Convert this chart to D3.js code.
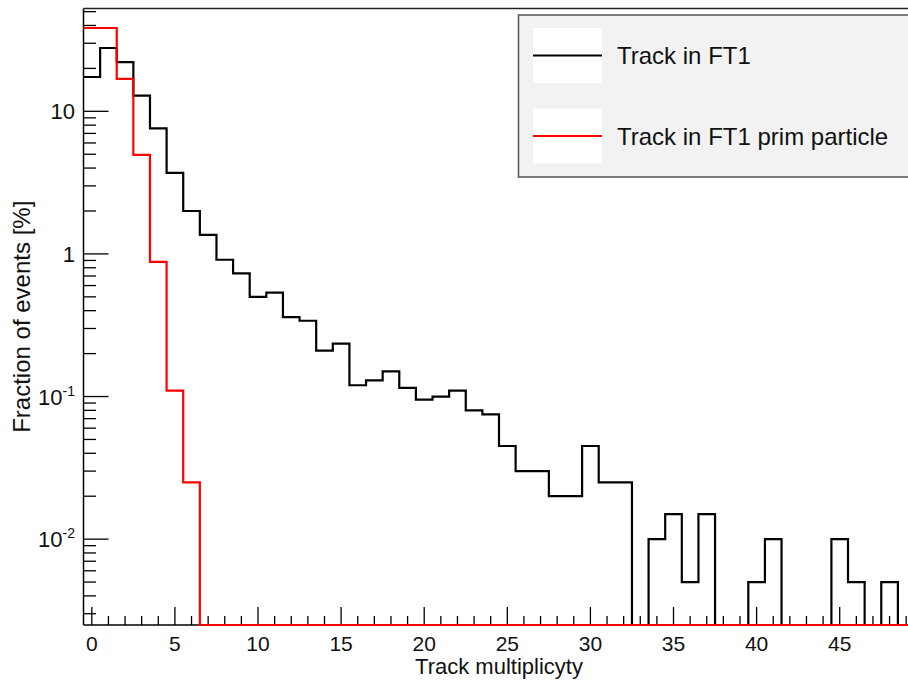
<!DOCTYPE html>
<html>
<head>
<meta charset="utf-8">
<script src="https://cdn.jsdelivr.net/npm/d3@7"></script>
<style>
  body { margin: 0; background: #fff; }
  svg { display: block; font-family: "Liberation Sans", Arial, sans-serif; }
</style>
</head>
<body>
<svg id="chart" width="908" height="680"></svg>
<script>
// bin centres 0..49, values in % of events (0 = empty bin)
var bins = d3.range(0, 50);

var trackFT1 = [
  17.4, 27.8, 22.1, 12.9, 7.6, 3.7, 2.0, 1.36, 0.91, 0.73,
  0.50, 0.535, 0.36, 0.34, 0.21, 0.235, 0.12, 0.13, 0.15, 0.115,
  0.095, 0.10, 0.11, 0.08, 0.075, 0.045, 0.03, 0.03, 0.02, 0.02,
  0.045, 0.025, 0.025, 0, 0.01, 0.015, 0.005, 0.015, 0, 0,
  0.005, 0.01, 0, 0, 0, 0.01, 0.005, 0, 0.005, 0
];

var trackFT1Prim = [
  38.4, 38.4, 16.9, 4.95, 0.88, 0.11, 0.025, 0, 0, 0,
  0, 0, 0, 0, 0, 0, 0, 0, 0, 0,
  0, 0, 0, 0, 0, 0, 0, 0, 0, 0,
  0, 0, 0, 0, 0, 0, 0, 0, 0, 0,
  0, 0, 0, 0, 0, 0, 0, 0, 0, 0
];

var xTicks = [0, 5, 10, 15, 20, 25, 30, 35, 40, 45];
var yTicks = [0.01, 0.1, 1, 10];
var yLabels = [["10", "-2"], ["10", "-1"], ["1", ""], ["10", ""]];

var legendNames = ["Track in FT1", "Track in FT1 prim particle"];
var legendColors = ["#000000", "#ff0000"];

var yMin = 0.0025, yMax = 52.6;

var svg = d3.select("#chart");
var padL = 83.5, padT = 8.5, padB = 625, padR = 914.5;

var x = d3.scaleLinear().domain([-0.5, 49.5]).range([padL, padR]);
var y = d3.scaleLog().domain([yMin, yMax]).range([padB, padT]);

// frame (top line only visible, right side is outside the picture)
svg.append("line").attr("x1", padL).attr("x2", 908).attr("y1", padT).attr("y2", padT)
  .attr("stroke", "#222").attr("stroke-width", 1.5);

// histogram outline, ROOT style
function histPath(vals) {
  var p = d3.path();
  vals.forEach(function (v, i) {
    var yy = y(v > 0 ? v : yMin);
    if (i === 0) p.moveTo(x(bins[i] - 0.5), yy);
    else p.lineTo(x(bins[i] - 0.5), yy);
    p.lineTo(x(bins[i] + 0.5), yy);
  });
  return p.toString();
}

// axes
var axisG = svg.append("g");
axisG.append("line").attr("x1", padL).attr("x2", 908).attr("y1", padB).attr("y2", padB)
  .attr("stroke", "#000").attr("stroke-width", 1.5);
axisG.append("line").attr("x1", padL).attr("x2", padL).attr("y1", padT).attr("y2", padB)
  .attr("stroke", "#000").attr("stroke-width", 1.5);

// x ticks
bins.forEach(function (b) {
  var major = xTicks.indexOf(b) >= 0;
  axisG.append("line").attr("x1", x(b)).attr("x2", x(b))
    .attr("y1", padB).attr("y2", padB - (major ? 18 : 9))
    .attr("stroke", "#000").attr("stroke-width", 1.3);
});
xTicks.forEach(function (t) {
  axisG.append("text").attr("x", x(t)).attr("y", 651).attr("text-anchor", "middle")
    .attr("font-size", 21).attr("fill", "#111").text(t);
});

// y ticks
var minor = [];
[-3, -2, -1, 0, 1].forEach(function (e) {
  for (var k = 2; k <= 9; k++) {
    var v = k * Math.pow(10, e);
    if (v > yMin && v < yMax) minor.push(v);
  }
});
minor.forEach(function (v) {
  axisG.append("line").attr("x1", padL).attr("x2", padL + 12.5)
    .attr("y1", y(v)).attr("y2", y(v)).attr("stroke", "#000").attr("stroke-width", 1.3);
});
yTicks.forEach(function (v, i) {
  axisG.append("line").attr("x1", padL).attr("x2", padL + 25)
    .attr("y1", y(v)).attr("y2", y(v)).attr("stroke", "#000").attr("stroke-width", 1.3);
  var lab = yLabels[i];
  var t = axisG.append("text").attr("x", 75).attr("y", y(v) + 8)
    .attr("text-anchor", "end").attr("font-size", 22).attr("fill", "#111");
  if (lab[1]) {
    t.append("tspan").text(lab[0]);
    t.append("tspan").attr("font-size", 14).attr("dy", -9).text(lab[1]);
  } else {
    t.text(lab[0]);
  }
});

// histograms
svg.append("path").attr("d", histPath(trackFT1)).attr("fill", "none")
  .attr("stroke", "#000").attr("stroke-width", 2.2);
svg.append("path").attr("d", histPath(trackFT1Prim)).attr("fill", "none")
  .attr("stroke", "#ff0000").attr("stroke-width", 2.2);

// axis titles
svg.append("text").attr("x", (padL + padR) / 2).attr("y", 674).attr("text-anchor", "middle")
  .attr("font-size", 22).attr("fill", "#111").text("Track multiplicyty");
svg.append("text").attr("transform", "translate(30," + ((padT + padB) / 2) + ") rotate(-90)")
  .attr("text-anchor", "middle").attr("font-size", 24).attr("fill", "#111")
  .text("Fraction of events [%]");

// legend
var lg = svg.append("g");
lg.append("rect").attr("x", 518.5).attr("y", 15).attr("width", 420).attr("height", 162)
  .attr("fill", "#f2f2f2").attr("stroke", "#555").attr("stroke-width", 1.5);
legendNames.forEach(function (name, i) {
  var cy = 55.5 + i * 80.5;
  lg.append("rect").attr("x", 533).attr("y", cy - 27.5).attr("width", 69).attr("height", 55)
    .attr("fill", "#fff");
  lg.append("line").attr("x1", 533).attr("x2", 602).attr("y1", cy).attr("y2", cy)
    .attr("stroke", legendColors[i]).attr("stroke-width", 2.2);
  lg.append("text").attr("x", 617).attr("y", cy + 8.5).attr("font-size", 24)
    .attr("fill", "#111").text(name);
});
</script>
</body>
</html>
